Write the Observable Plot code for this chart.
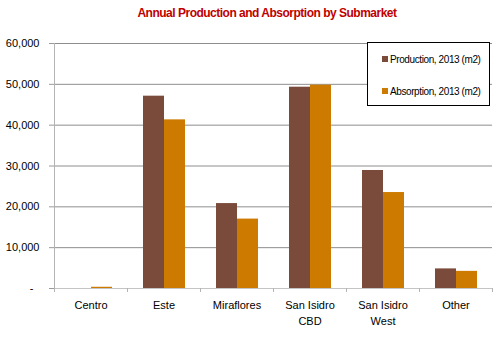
<!DOCTYPE html>
<html><head><meta charset="utf-8">
<script src="https://cdn.jsdelivr.net/npm/d3@7"></script>
<script src="https://cdn.jsdelivr.net/npm/@observablehq/plot@0.6"></script>
<style>
body{margin:0;background:#fff;font-family:"Liberation Sans",Arial,sans-serif;}
#wrap{position:relative;width:500px;height:339px;overflow:hidden;background:#fff}
#title{height:28px;line-height:27px;margin-left:34px;width:466px;text-align:center;color:#C00000;font-weight:bold;font-size:12px;letter-spacing:-0.5px}
#legend{position:absolute;left:367px;top:42px;width:121px;height:62px;border:1px solid #000;background:#fff;font-size:10px;letter-spacing:-0.4px;color:#000}
.item{position:absolute;left:14px;height:14px;line-height:14px;white-space:nowrap}
.sw{display:inline-block;width:6px;height:6px;margin-right:2px;vertical-align:1px}
#chart svg{display:block}
</style></head>
<body>
<div id="wrap">
  <div id="title">Annual Production and Absorption by Submarket</div>
  <div id="chart"></div>
  <div id="legend"></div>
</div>
<script>
const categories = ["Centro", "Este", "Miraflores", "San Isidro\nCBD", "San Isidro\nWest", "Other"];
const seriesNames = ["Production, 2013 (m2)", "Absorption, 2013 (m2)"];
const production = [0, 47100, 20800, 49300, 28900, 4800];
const absorption = [300, 41300, 17000, 49800, 23500, 4200];
const yTicks = [0, 10000, 20000, 30000, 40000, 50000, 60000];
const colors = ["#7A4A3A", "#CC7A00"];

const data = [];
categories.forEach((c, i) => {
  data.push({cat: c, series: seriesNames[0], value: production[i]});
  data.push({cat: c, series: seriesNames[1], value: absorption[i]});
});

const fmt = d3.format(",");
const plot = Plot.plot({
  width: 500,
  height: 311,
  marginLeft: 53,
  marginRight: 8,
  marginTop: 15,
  marginBottom: 51,
  style: {fontFamily: '"Liberation Sans",Arial,sans-serif', fontSize: "11px", color: "#000", background: "#fff"},
  fx: {domain: categories, paddingInner: 0, paddingOuter: 0},
  x: {domain: seriesNames, paddingInner: 0, paddingOuter: 0.738, axis: null},
  y: {domain: [0, 60000], axis: null},
  color: {domain: seriesNames, range: colors},
  marks: [
    Plot.ruleY(yTicks.filter(d => d > 0), {stroke: "#8e8e8e", strokeWidth: 1}),
    Plot.ruleY([0], {stroke: "#c4c4c4", strokeWidth: 1}),
    Plot.barY(data, {fx: "cat", x: "series", y: "value", fill: "series"}),
    Plot.axisY({ticks: yTicks, tickSize: 5, tickPadding: 10, stroke: "#9a9a9a", label: null,
      tickFormat: d => d === 0 ? "-\u00a0\u00a0" : fmt(d), fontSize: 11}),
    Plot.axisFx({anchor: "bottom", tickSize: 0, tickPadding: 10, label: null, fontSize: 11, lineHeight: 1.4})
  ]
});

// category boundary ticks and left axis line, positioned through the plot's own scales
const fx = plot.scale("fx"), y = plot.scale("y");
const svg = d3.select(plot);
const g = svg.append("g").attr("stroke", "#b4b4b4").attr("stroke-width", 1);
const x0 = fx.apply(categories[0]);
const bounds = categories.map(c => fx.apply(c)).concat([fx.apply(categories[categories.length - 1]) + fx.bandwidth]);
g.append("line").attr("x1", x0 + 0.5).attr("x2", x0 + 0.5).attr("y1", y.apply(60000)).attr("y2", y.apply(0) + 4);
bounds.forEach(b => {
  g.append("line").attr("x1", b + 0.5).attr("x2", b + 0.5).attr("y1", y.apply(0)).attr("y2", y.apply(0) + 4);
});
document.getElementById("chart").appendChild(plot);

// legend
const leg = document.getElementById("legend");
seriesNames.forEach((s, i) => {
  const it = document.createElement("div");
  it.className = "item";
  it.style.top = (10 + i * 32) + "px";
  it.innerHTML = `<span class="sw" style="background:${colors[i]}"></span>${s}`;
  leg.appendChild(it);
});
</script>
</body></html>
